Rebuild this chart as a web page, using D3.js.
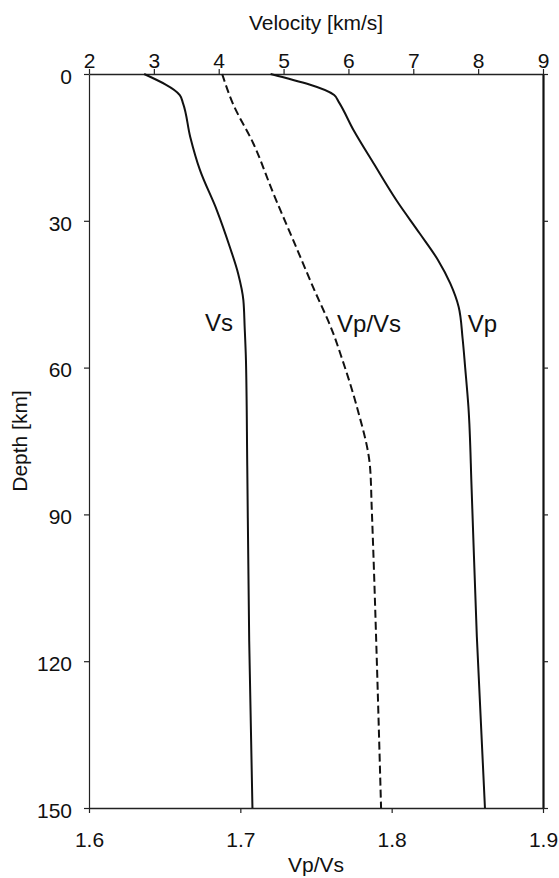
<!DOCTYPE html>
<html>
<head>
<meta charset="utf-8">
<script src="https://cdn.jsdelivr.net/npm/d3@7"></script>
<style>
  body { margin: 0; background: #fff; }
  svg { display: block; font-family: "Liberation Sans", Arial, sans-serif; }
</style>
</head>
<body>
<div id="chart"></div>
<script>
// Vs profile (depth km, velocity km/s)
const vsDepth = [0, 4.3, 6, 12.8, 19.6, 27.8, 35.3, 40.8, 46.2, 51.7, 58.5, 80, 115.8, 150];
const vsVal   = [2.85, 3.40, 3.45, 3.56, 3.71, 3.97, 4.17, 4.30, 4.38, 4.40, 4.42, 4.44, 4.47, 4.52];

// Vp profile
const vpDepth = [0, 4.3, 5.7, 11.5, 18.3, 25.8, 32.6, 38, 42.8, 47.6, 54, 60, 68, 85, 115, 150];
const vpVal   = [4.80, 5.78, 5.85, 6.08, 6.39, 6.74, 7.10, 7.38, 7.57, 7.70, 7.76, 7.80, 7.85, 7.90, 7.98, 8.105];

// Vp/Vs ratio profile
const ratioDepth = [0, 6, 14.2, 24.4, 34, 43.5, 53, 58, 68, 80.3, 88.5, 98.7, 115, 150];
const ratioVal   = [1.688, 1.695, 1.7086, 1.7218, 1.735, 1.748, 1.7614, 1.767, 1.777, 1.7857, 1.7868, 1.788, 1.7897, 1.793];

// tick values
const velTicks = [2, 3, 4, 5, 6, 7, 8, 9];
const ratioTicks = [1.6, 1.7, 1.8, 1.9];
const depthTicks = [0, 30, 60, 90, 120, 150];

const width = 559, height = 878;
const margin = { top: 74, right: 16, bottom: 70, left: 89 };

const svg = d3.select('#chart').append('svg')
  .attr('width', width)
  .attr('height', height);

const x = d3.scaleLinear().domain([2, 9]).range([margin.left, width - margin.right]);
const xr = d3.scaleLinear().domain([1.6, 1.9]).range([margin.left, width - margin.right]);
const y = d3.scaleLinear().domain([0, 150]).range([margin.top, height - margin.bottom]);

const fontSize = '21px';

// top axis (velocity)
const gTop = svg.append('g')
  .attr('transform', `translate(0,${margin.top})`)
  .call(d3.axisTop(x).tickValues(velTicks).tickFormat(d3.format('d'))
    .tickSize(5).tickPadding(1).tickSizeOuter(0));

// bottom axis (Vp/Vs)
const gBottom = svg.append('g')
  .attr('transform', `translate(0,${height - margin.bottom})`)
  .call(d3.axisBottom(xr).tickValues(ratioTicks).tickFormat(d3.format('.1f'))
    .tickSize(5).tickPadding(19).tickSizeOuter(0));

// left axis (depth)
const gLeft = svg.append('g')
  .attr('transform', `translate(${margin.left},0)`)
  .call(d3.axisLeft(y).tickValues(depthTicks).tickSize(5).tickPadding(12).tickSizeOuter(0));
gLeft.selectAll('text').attr('dy', '0.44em');

// right axis, ticks only
const gRight = svg.append('g')
  .attr('transform', `translate(${width - margin.right},0)`)
  .call(d3.axisRight(y).tickValues(depthTicks).tickSize(5).tickFormat('').tickSizeOuter(0));

[gTop, gBottom, gLeft, gRight].forEach(g => {
  g.selectAll('text').attr('font-size', fontSize).attr('fill', '#111')
    .attr('font-family', '"Liberation Sans", Arial, sans-serif');
  g.selectAll('line').attr('stroke', '#222').attr('stroke-width', 1.2);
  g.select('.domain').attr('stroke', '#222').attr('stroke-width', 1.5);
});
gLeft.select('.domain').attr('stroke-width', 1.2);
gRight.select('.domain').attr('stroke', '#111').attr('stroke-width', 2.2);

// axis titles
svg.append('text')
  .attr('x', (margin.left + width - margin.right) / 2)
  .attr('y', 30)
  .attr('text-anchor', 'middle')
  .attr('font-size', fontSize)
  .attr('fill', '#111')
  .text('Velocity [km/s]');

svg.append('text')
  .attr('x', (margin.left + width - margin.right) / 2)
  .attr('y', 872)
  .attr('text-anchor', 'middle')
  .attr('font-size', fontSize)
  .attr('fill', '#111')
  .text('Vp/Vs');

svg.append('text')
  .attr('transform', `translate(27,${(margin.top + height - margin.bottom) / 2}) rotate(-90)`)
  .attr('text-anchor', 'middle')
  .attr('font-size', fontSize)
  .attr('fill', '#111')
  .text('Depth [km]');

// profiles
const lineVel = d3.line()
  .x(d => x(d[1]))
  .y(d => y(d[0]))
  .curve(d3.curveMonotoneY);

const lineRatio = d3.line()
  .x(d => xr(d[1]))
  .y(d => y(d[0]))
  .curve(d3.curveMonotoneY);

svg.append('path')
  .datum(d3.zip(vsDepth, vsVal))
  .attr('d', lineVel)
  .attr('fill', 'none')
  .attr('stroke', '#111')
  .attr('stroke-width', 2);

svg.append('path')
  .datum(d3.zip(vpDepth, vpVal))
  .attr('d', lineVel)
  .attr('fill', 'none')
  .attr('stroke', '#111')
  .attr('stroke-width', 2);

svg.append('path')
  .datum(d3.zip(ratioDepth, ratioVal))
  .attr('d', lineRatio)
  .attr('fill', 'none')
  .attr('stroke', '#111')
  .attr('stroke-width', 2)
  .attr('stroke-dasharray', '8,4');

// curve labels
svg.append('text')
  .attr('x', x(4.22)).attr('y', y(52.5))
  .attr('text-anchor', 'end')
  .attr('font-size', '24px').attr('fill', '#111')
  .text('Vs');

svg.append('text')
  .attr('x', xr(1.7639)).attr('y', y(52.7))
  .attr('font-size', '24px').attr('fill', '#111')
  .text('Vp/Vs');

svg.append('text')
  .attr('x', x(7.84)).attr('y', y(52.7))
  .attr('font-size', '24px').attr('fill', '#111')
  .text('Vp');
</script>
</body>
</html>
